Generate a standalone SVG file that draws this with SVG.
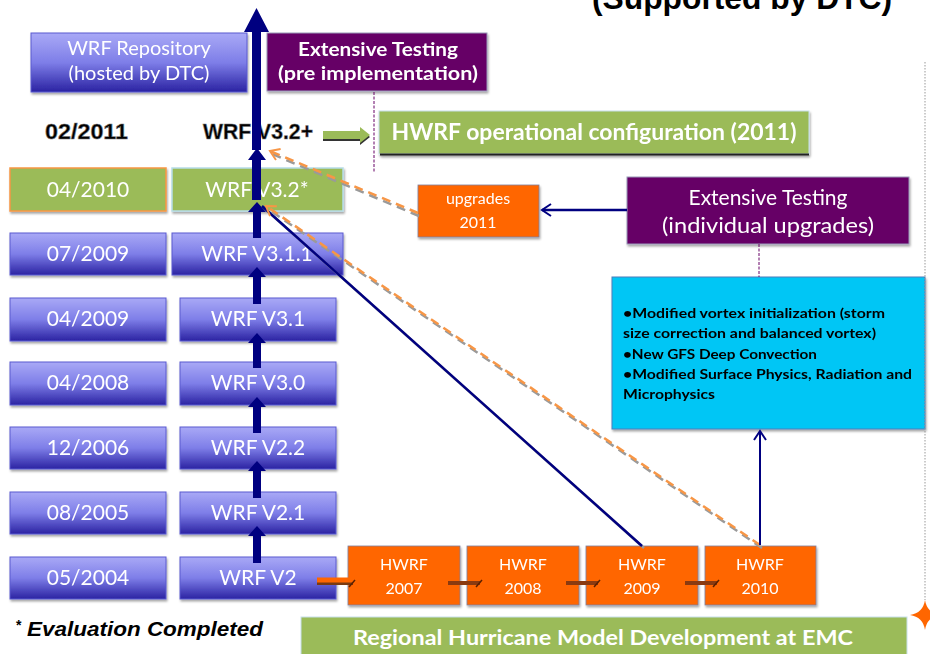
<svg xmlns="http://www.w3.org/2000/svg" width="930" height="654" viewBox="0 0 930 654">
<style>
.lbl{font-family:Lato,"Open Sans","Liberation Sans",sans-serif;fill:#fff;text-anchor:middle}
.blue{fill:url(#gb);stroke:#5a5ad0;stroke-width:1}
.green{fill:#9bbb59}
.orange{fill:#ff6600;stroke:#7f7f9f;stroke-width:0.8}
.purple{fill:#660066;stroke:#9a9ab8;stroke-width:1}
.navy{fill:#000080}
.shadow{filter:url(#sh)}
.dash{stroke:#f79646;stroke-width:2.5;stroke-dasharray:9 6;fill:none}
.dashsh{stroke:#9a9a9a;stroke-width:2.5;stroke-dasharray:9 6;fill:none}
.bold{font-family:"Liberation Sans",Arial,sans-serif;font-weight:bold;fill:#000}
.cy{font-family:Lato,"Liberation Sans",sans-serif;font-weight:bold;font-size:13px;fill:#000}
</style>
<defs>
<linearGradient id="gb" x1="0" y1="0" x2="0" y2="1">
<stop offset="0" stop-color="#a9a9f6"/>
<stop offset="0.5" stop-color="#7e7ee8"/>
<stop offset="1" stop-color="#2a22a2"/>
</linearGradient>
<filter id="sh" x="-5%" y="-5%" width="110%" height="120%">
<feDropShadow dx="1" dy="2" stdDeviation="1" flood-color="#000" flood-opacity="0.35"/>
</filter>
<marker id="navyHead" markerUnits="userSpaceOnUse" markerWidth="14" markerHeight="14" refX="11" refY="7" orient="auto">
<path d="M2,1 L11,7 L2,13" fill="none" stroke="#000080" stroke-width="2"/>
</marker>
<marker id="orHead" markerUnits="userSpaceOnUse" markerWidth="14" markerHeight="14" refX="11" refY="7" orient="auto">
<path d="M2,1 L11,7 L2,13" fill="none" stroke="#f79646" stroke-width="2"/>
</marker>
</defs>
<rect width="930" height="654" fill="#fff"/>

<text class="bold" x="592" y="9" font-size="31" textLength="300" lengthAdjust="spacingAndGlyphs">(Supported by DTC)</text>

<g id="repo" class="shadow"><rect x="31" y="33" width="216" height="59" class="blue"/>
<text class="lbl" x="139" y="55" font-size="20" fill="#eef">WRF Repository</text>
<text class="lbl" x="139" y="80" font-size="20">(hosted by DTC)</text></g>

<g id="testPre" class="shadow"><rect x="267" y="33" width="220" height="58" class="purple"/>
<text class="lbl" x="378" y="56" font-size="18" font-weight="bold" textLength="160" lengthAdjust="spacingAndGlyphs">Extensive Testing</text>
<text class="lbl" x="378" y="80" font-size="18" font-weight="bold" textLength="200" lengthAdjust="spacingAndGlyphs">(pre implementation)</text></g>

<g id="d2011"><text class="bold" x="45" y="139" font-size="22" textLength="83" lengthAdjust="spacingAndGlyphs" stroke="#777" stroke-width="0.6">02/2011</text></g>
<g id="v32plus"><text class="bold" x="203" y="139" font-size="22" textLength="110" lengthAdjust="spacingAndGlyphs" stroke="#777" stroke-width="0.6">WRF V3.2+</text></g>

<g id="hwrfOp" class="shadow"><rect x="379" y="111" width="430" height="43" class="green" stroke="#c8e0ec" stroke-width="1"/>
<line x1="380" y1="154.5" x2="809" y2="154.5" stroke="#222" stroke-width="2"/>
<text class="lbl" x="594" y="140" font-size="22" font-weight="bold" textLength="405" lengthAdjust="spacingAndGlyphs">HWRF operational configuration (2011)</text></g>

<g id="d042010" class="shadow"><rect x="10" y="168" width="156" height="43" class="green" stroke="#f79646" stroke-width="1.5"/>
<text class="lbl" x="88" y="197" font-size="21">04/2010</text></g>
<g id="v32" class="shadow"><rect x="172" y="168" width="171" height="43" class="green" stroke="#b7dde8" stroke-width="1.5"/>
<text class="lbl" x="257" y="197" font-size="21">WRF V3.2*</text></g>

<g id="up2011" class="shadow"><rect x="418" y="185" width="121" height="52" class="orange"/>
<text class="lbl" x="478" y="204" font-size="16">upgrades</text>
<text class="lbl" x="478" y="228" font-size="16">2011</text></g>

<g id="testInd" class="shadow"><rect x="627" y="177" width="282" height="67" class="purple"/>
<text class="lbl" x="768" y="205" font-size="21">Extensive Testing</text>
<text class="lbl" x="768" y="233" font-size="21" textLength="212" lengthAdjust="spacingAndGlyphs">(individual upgrades)</text></g>

<g id="d072009" class="shadow"><rect x="10" y="233" width="156" height="42" class="blue"/>
<text class="lbl" x="88" y="261" font-size="21">07/2009</text></g>
<g id="v311" class="shadow"><rect x="172" y="233" width="171" height="42" class="blue"/>
<text class="lbl" x="257" y="261" font-size="21">WRF V3.1.1</text></g>

<g id="d042009" class="shadow"><rect x="10" y="298" width="156" height="43" class="blue"/>
<text class="lbl" x="88" y="326" font-size="21">04/2009</text></g>
<g id="v31" class="shadow"><rect x="180" y="298" width="156" height="43" class="blue"/>
<text class="lbl" x="258" y="326" font-size="21">WRF V3.1</text></g>

<g id="d042008" class="shadow"><rect x="10" y="362" width="156" height="43" class="blue"/>
<text class="lbl" x="88" y="390" font-size="21">04/2008</text></g>
<g id="v30" class="shadow"><rect x="180" y="362" width="156" height="43" class="blue"/>
<text class="lbl" x="258" y="390" font-size="21">WRF V3.0</text></g>

<g id="d122006" class="shadow"><rect x="10" y="427" width="156" height="42" class="blue"/>
<text class="lbl" x="88" y="455" font-size="21">12/2006</text></g>
<g id="v22" class="shadow"><rect x="180" y="427" width="156" height="42" class="blue"/>
<text class="lbl" x="258" y="455" font-size="21">WRF V2.2</text></g>

<g id="d082005" class="shadow"><rect x="10" y="492" width="156" height="42" class="blue"/>
<text class="lbl" x="88" y="520" font-size="21">08/2005</text></g>
<g id="v21" class="shadow"><rect x="180" y="492" width="156" height="42" class="blue"/>
<text class="lbl" x="258" y="520" font-size="21">WRF V2.1</text></g>

<g id="d052004" class="shadow"><rect x="10" y="557" width="156" height="42" class="blue"/>
<text class="lbl" x="88" y="585" font-size="21">05/2004</text></g>
<g id="v2" class="shadow"><rect x="180" y="557" width="156" height="42" class="blue"/>
<text class="lbl" x="258" y="585" font-size="21">WRF V2</text></g>

<g id="cyan" class="shadow"><rect x="612" y="277" width="313" height="152" fill="#00c6f5" stroke="#4a7ebb" stroke-width="1"/>
<text class="cy" x="623" y="318" textLength="262" lengthAdjust="spacingAndGlyphs">•Modified vortex initialization (storm</text>
<text class="cy" x="623" y="338" textLength="253" lengthAdjust="spacingAndGlyphs">size correction and balanced vortex)</text>
<text class="cy" x="623" y="359" textLength="194" lengthAdjust="spacingAndGlyphs">•New GFS Deep Convection</text>
<text class="cy" x="623" y="379" textLength="289" lengthAdjust="spacingAndGlyphs">•Modified Surface Physics, Radiation and</text>
<text class="cy" x="623" y="399" textLength="92" lengthAdjust="spacingAndGlyphs">Microphysics</text></g>

<g id="h2007" class="shadow"><rect x="348" y="546" width="112" height="59" class="orange"/>
<text class="lbl" x="404" y="570" font-size="16">HWRF</text><text class="lbl" x="404" y="594" font-size="16">2007</text></g>
<g id="h2008" class="shadow"><rect x="467" y="546" width="112" height="59" class="orange"/>
<text class="lbl" x="523" y="570" font-size="16">HWRF</text><text class="lbl" x="523" y="594" font-size="16">2008</text></g>
<g id="h2009" class="shadow"><rect x="586" y="546" width="112" height="59" class="orange"/>
<text class="lbl" x="642" y="570" font-size="16">HWRF</text><text class="lbl" x="642" y="594" font-size="16">2009</text></g>
<g id="h2010" class="shadow"><rect x="705" y="546" width="111" height="59" class="orange"/>
<text class="lbl" x="760" y="570" font-size="16">HWRF</text><text class="lbl" x="760" y="594" font-size="16">2010</text></g>

<g id="emc"><rect x="301" y="617" width="606" height="45" fill="#9bbb59" stroke="#c8e0ec" stroke-width="1"/>
<text class="lbl" x="603" y="645" font-size="20" font-weight="bold" textLength="500" lengthAdjust="spacingAndGlyphs">Regional Hurricane Model Development at EMC</text></g>

<g id="note"><text class="bold" x="16" y="630" font-size="14">*</text>
<text class="bold" x="27" y="636" font-size="20" font-style="italic" textLength="236" lengthAdjust="spacingAndGlyphs">Evaluation Completed</text></g>

<g id="star"><path d="M925,600 Q927,613 940,615 Q927,617 925,630 Q923,617 910,615 Q923,613 925,600 Z" fill="#ff6600"/></g>

<g id="connectors">
<line x1="925" y1="62" x2="925" y2="600" stroke="#999" stroke-width="1" stroke-dasharray="1.5 1.5"/>
<line x1="374" y1="92" x2="374" y2="172" stroke="#660066" stroke-width="1" stroke-dasharray="3 1.5"/>
<line x1="759" y1="244" x2="759" y2="277" stroke="#660066" stroke-width="1" stroke-dasharray="3 1.5"/>
<path d="M323,133 L360,133 L360,129 L370,137 L360,145 L360,141 L323,141 Z" fill="#333"/>
<path d="M323,131 L360,131 L360,127 L370,135 L360,143 L360,139 L323,139 Z" fill="#9bbb59"/>
<line x1="644" y1="548" x2="264" y2="208" stroke="#999" stroke-width="2.5"/>
<line x1="642" y1="546" x2="262" y2="206" stroke="#000080" stroke-width="2.5"/>
<line x1="762" y1="548" x2="268" y2="209" class="dashsh"/>
<line x1="760" y1="545" x2="266" y2="206" class="dash" marker-end="url(#orHead)"/>
<line x1="419" y1="216" x2="272" y2="154" class="dashsh"/>
<line x1="418" y1="213" x2="270" y2="151" class="dash" marker-end="url(#orHead)"/>
<line x1="627" y1="210" x2="542" y2="210" stroke="#000080" stroke-width="2.5" marker-end="url(#navyHead)"/>
<line x1="760" y1="545" x2="760" y2="431" stroke="#000080" stroke-width="2" marker-end="url(#navyHead)"/>
<line x1="317" y1="583" x2="353" y2="583" stroke="#7a3a10" stroke-width="4"/>
<line x1="317" y1="580" x2="353" y2="580" stroke="#ff6600" stroke-width="5"/>
<line x1="448" y1="583" x2="480" y2="583" stroke="#8a3a10" stroke-width="4"/>
<line x1="566" y1="583" x2="598" y2="583" stroke="#8a3a10" stroke-width="4"/>
<line x1="685" y1="583" x2="717" y2="583" stroke="#8a3a10" stroke-width="4"/>
<g stroke="#5a2000" stroke-width="1.5">
<line x1="349" y1="587" x2="355" y2="580"/>
<line x1="476" y1="587" x2="482" y2="580"/>
<line x1="594" y1="587" x2="600" y2="580"/>
<line x1="713" y1="587" x2="719" y2="580"/>
</g>
<g class="navy">
<path d="M253,563 L253,536 L248,536 L257,526 L266,536 L261,536 L261,563 Z"/>
<path d="M253,498 L253,471 L248,471 L257,461 L266,471 L261,471 L261,498 Z"/>
<path d="M253,433 L253,407 L248,407 L257,397 L266,407 L261,407 L261,433 Z"/>
<path d="M253,368 L253,343 L248,343 L257,333 L266,343 L261,343 L261,368 Z"/>
<path d="M253,304 L253,277 L248,277 L257,267 L266,277 L261,277 L261,304 Z"/>
<path d="M253,238 L253,212 L248,212 L257,202 L266,212 L261,212 L261,238 Z"/>
<path d="M252,200 L252,160 L248,160 L257,148 L266,160 L261,160 L261,200 Z"/>
<path d="M252,150 L252,32 L244,32 L256.5,8 L269,32 L261,32 L261,150 Z"/>
</g>
</g>
</svg>
